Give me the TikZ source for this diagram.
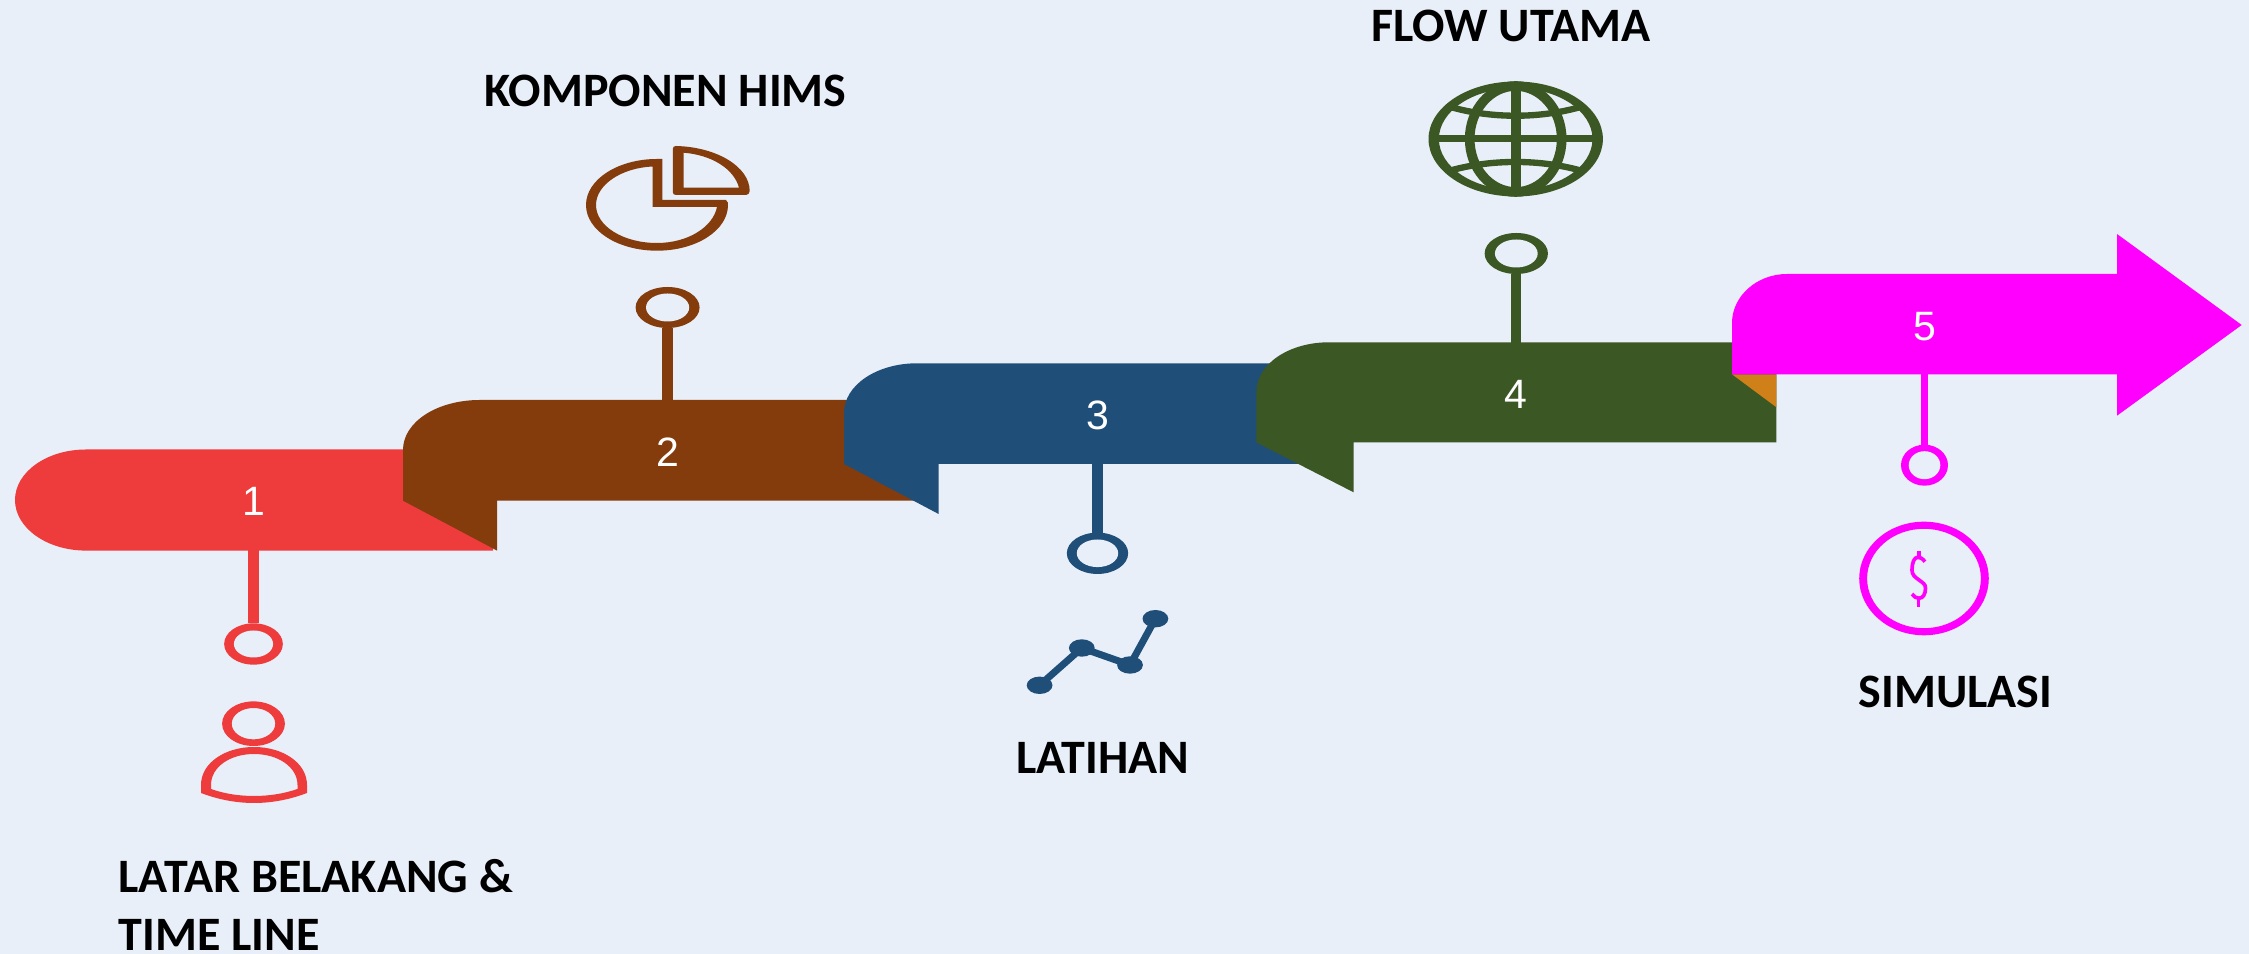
\documentclass[tikz,border=0pt]{standalone}
\usepackage{fontspec}
\setmainfont{Carlito}
\newfontfamily\digitfont{Liberation Sans}
\usetikzlibrary{shapes.geometric}
\definecolor{pageBg}{HTML}{E8EFF9}
\definecolor{stepRed}{HTML}{EE3B3B}
\definecolor{stepBrown}{HTML}{843C0C}
\definecolor{stepBlue}{HTML}{1F4E79}
\definecolor{stepGreen}{HTML}{3B5724}
\definecolor{stepPink}{HTML}{FF00FF}
\definecolor{stepOrange}{HTML}{CF8019}
\tikzset{
  numtext/.style={text=white,inner sep=0pt,font=\digitfont\fontsize{12.3}{14}\selectfont},
  headtext/.style={text=black,inner sep=0pt,font=\bfseries\fontsize{14.4}{17.55}\selectfont},
  pinring/.style={shape=ellipse,fill=#1,inner sep=0pt,outer sep=0pt},
  pinstem/.style={draw=#1,line width=3.1pt},
  icon/.style={fill=#1,even odd rule}
}
\begin{document}
\begin{tikzpicture}[x=0.3pt,y=0.3pt,yscale=-1,xscale=1]
\useasboundingbox (0,0) rectangle (2249,954);
%Shape: Background
\fill [pageBg] (0,0) rectangle (2249,954);

%Shape: Ribbon 1
\fill [stepRed] (86,449.5) -- (493,449.5) -- (493,550.6) -- (86,550.6) .. controls (47,550.6) and (15,528) .. (15,500) .. controls (15,472) and (47,449.5) .. (86,449.5) -- cycle ;
%Shape: Ribbon 2
\fill [stepBrown] (403,450) .. controls (403,422) and (437,400) .. (480,400) -- (925,400) -- (925,500.7) -- (497,500.7) -- (497,550.6) -- (403,500.7) -- cycle ;
%Shape: Ribbon 3
\fill [stepBlue] (844,413) .. controls (844,385) and (877,363.3) .. (917,363.3) -- (1310,363.3) -- (1310,464) -- (938.6,464) -- (938.6,514) -- (844,464) -- cycle ;
%Shape: Ribbon 4
\fill [stepGreen] (1256.4,392) .. controls (1256.4,364) and (1289,342.3) .. (1329,342.3) -- (1776.4,342.3) -- (1776.4,442.5) -- (1353.6,442.5) -- (1353.6,492.3) -- (1256.4,442.5) -- cycle ;
%Shape: Fold 4
\fill [stepOrange] (1732,374.3) -- (1776.4,374.3) -- (1776.4,407.3) -- cycle ;
%Shape: Arrow 5
\fill [stepPink] (1732,323) .. controls (1732,296) and (1757,274) .. (1787,274) -- (2117,274) -- (2117,234) -- (2241.7,325) -- (2117,415.7) -- (2117,374.3) -- (1732,374.3) -- cycle ;

% Text Node
\node [numtext] (num1) at (253.5,501) {1};
\node [numtext] (num2) at (667.6,452) {2};
\node [numtext] (num3) at (1097.5,415) {3};
\node [numtext] (num4) at (1516.3,394) {4};
\node [numtext] (num5) at (1924.5,327) {5};

%Shape: Pin Rings
\node [pinring=stepRed,minimum width=17.6pt,minimum height=12.4pt] (ring1) at (253.5,644) {};
\node [pinring=stepBrown,minimum width=19.2pt,minimum height=12.3pt] (ring2) at (667.6,307.5) {};
\node [pinring=stepBlue,minimum width=18.4pt,minimum height=12.4pt] (ring3) at (1097.5,553.3) {};
\node [pinring=stepGreen,minimum width=19pt,minimum height=12.3pt] (ring4) at (1516.3,253.5) {};
\node [pinring=stepPink,minimum width=14.1pt,minimum height=12.3pt] (ring5) at (1924.5,465.2) {};
\fill [pageBg] (ring1) ellipse [x radius=19.6,y radius=13.5];
\fill [pageBg] (ring2) ellipse [x radius=21.6,y radius=14];
\fill [pageBg] (ring3) ellipse [x radius=20.7,y radius=13.8];
\fill [pageBg] (ring4) ellipse [x radius=21.4,y radius=14];
\fill [pageBg] (ring5) ellipse [x radius=15.8,y radius=14];

%Straight Lines
\draw [pinstem=stepRed] (num1) -- (ring1);
\draw [pinstem=stepBrown] (num2) -- (ring2);
\draw [pinstem=stepBlue] (num3) -- (ring3);
\draw [pinstem=stepGreen] (num4) -- (ring4);
\draw [pinstem=stepPink,line width=2.3pt] (num5) -- (ring5);

%Shape: Person Icon
\fill [icon=stepRed] (253.5,723.7) ellipse [x radius=31.4,y radius=22.3] (253.5,723.7) ellipse [x radius=21.8,y radius=15.7];
\fill [icon=stepRed] (201,793) -- (201,785) .. controls (201,763) and (225,747) .. (254,747) .. controls (283,747) and (307,763) .. (307,785) -- (307,793) .. controls (290,799.5) and (272,803) .. (254,803) .. controls (236,803) and (218,799.5) .. (201,793) -- cycle
  (211,789) .. controls (225,794) and (240,796) .. (254,796) .. controls (268,796) and (283,794) .. (297.5,789) -- (297.5,785) .. controls (297.5,767) and (278,754) .. (254,754) .. controls (230,754) and (211,767) .. (211,785) -- cycle ;
%Shape: Pie Icon
\fill [icon=stepBrown] (662.4,159) -- (662.4,200) -- (726,200) .. controls (728,202) and (728,203) .. (728,205) .. controls (728,230.4) and (696.2,250.7) .. (657,250.7) .. controls (617.8,250.7) and (586,230.4) .. (586,205) .. controls (586,179.6) and (617.8,159) .. (657,159) -- cycle
  (652.5,166.5) .. controls (621,168) and (596,185) .. (596,205) .. controls (596,226) and (623,243) .. (657,243) .. controls (688,243) and (713,227) .. (717,207) -- (652.5,207) -- cycle ;
\fill [icon=stepBrown] (672.8,149) .. controls (672.8,147) and (674,146) .. (676,146) .. controls (717,147) and (749.7,167) .. (749.7,191) .. controls (749.7,193) and (748,195) .. (746,195) -- (676,195) .. controls (674,195) and (672.8,194) .. (672.8,192) -- cycle
  (683.5,152.7) .. controls (712,155) and (734,169) .. (739,187.7) -- (683.5,187.7) -- cycle ;
%Shape: Line Chart Icon
\draw [stepBlue,line width=2.1pt] (1039.6,685.3) -- (1081.8,648) -- (1130,665) -- (1155.4,618.7);
\fill [stepBlue] (1039.6,685.3) ellipse [x radius=12.9,y radius=8.7];
\fill [stepBlue] (1081.8,648) ellipse [x radius=12.9,y radius=8.7];
\fill [stepBlue] (1130,665) ellipse [x radius=12.9,y radius=8.7];
\fill [stepBlue] (1155.4,618.7) ellipse [x radius=12.9,y radius=8.7];
%Shape: Globe Icon
\fill [icon=stepGreen] (1515.7,139) ellipse [x radius=87.2,y radius=57.5] (1515.7,139) ellipse [x radius=76.8,y radius=50.8];
\draw [stepGreen,line width=2.9pt] (1516.2,85) -- (1516.2,193);
\draw [stepGreen,line width=2pt] (1432,138.5) -- (1600,138.5);
\draw [stepGreen,line width=2.9pt] (1515.7,139) ellipse [x radius=46,y radius=53];
\draw [stepGreen,line width=1.9pt] (1447,106) .. controls (1490,119) and (1541,119) .. (1584,106);
\draw [stepGreen,line width=1.9pt] (1447,171.5) .. controls (1490,158.8) and (1541,158.8) .. (1584,171.5);
%Shape: Coin Icon
\fill [icon=stepPink] (1924,578.5) ellipse [x radius=64.8,y radius=56.8] (1924,578.5) ellipse [x radius=56.9,y radius=49.7];
\draw [stepPink,line width=1.1pt] (1925,561.7) .. controls (1922,558) and (1920,557.3) .. (1917.8,557.3) .. controls (1914,557.3) and (1912,563) .. (1912,570) .. controls (1912,575) and (1915,577) .. (1919,580) .. controls (1923,583) and (1925.5,584) .. (1925.5,588.3) .. controls (1925.5,594) and (1923,598.3) .. (1919,598.3) .. controls (1916,598.3) and (1914,596.5) .. (1912,594);
\draw [stepPink,line width=1.1pt] (1919,551) -- (1919,557.3);
\draw [stepPink,line width=1.1pt] (1918.5,598.3) -- (1918.5,606.7);

% Text Node
\node [headtext,anchor=base west,align=left] (lab1) at (118,951) {LATAR BELAKANG \&\\TIME LINE};
\node [headtext,anchor=base west] (lab2) at (484,106.7) {KOMPONEN HIMS};
\node [headtext,anchor=base west] (lab3) at (1015.5,773.3) {LATIHAN};
\node [headtext,anchor=base west] (lab4) at (1370.5,41.7) {FLOW UTAMA};
\node [headtext,anchor=base west] (lab5) at (1858,707.3) {SIMULASI};

\end{tikzpicture}
\end{document}
